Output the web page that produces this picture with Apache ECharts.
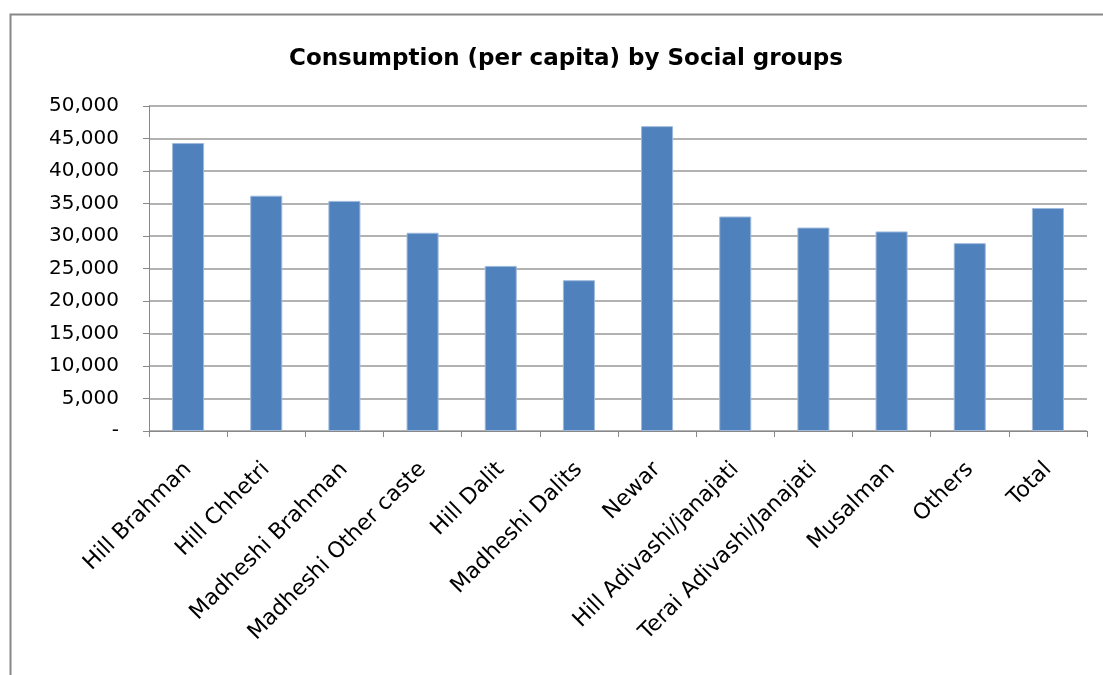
<!DOCTYPE html>
<html>
<head>
<meta charset="utf-8">
<script src="https://cdn.jsdelivr.net/npm/echarts@6/dist/echarts.min.js"></script>
<style>
html,body{margin:0;padding:0;background:#fff;}
#chart{width:1103px;height:675px;}
</style>
</head>
<body>
<div id="chart"></div>
<script>
const categories = ["Hill Brahman","Hill Chhetri","Madheshi Brahman","Madheshi Other caste","Hill Dalit","Madheshi Dalits","Newar","Hill Adivashi/janajati","Terai Adivashi/Janajati","Musalman","Others","Total"];
const values = [44300, 36200, 35400, 30500, 25400, 23200, 46900, 33000, 31300, 30700, 28900, 34300];
const titleText = "Consumption (per capita) by Social groups";

const chart = echarts.init(document.getElementById('chart'), null, {renderer:'canvas'});
const fontFam = "'DejaVu Sans', 'Open Sans', sans-serif";
chart.setOption({
  animation:false,
  backgroundColor:'#fff',
  graphic:[{
    type:'rect', left:8, top:12,
    shape:{x:0,y:0,width:1200,height:800},
    style:{fill:'none', stroke:'#888', lineWidth:2},
    silent:true, z:-1
  }],
  title:{
    text:titleText, left:284, top:43,
    textStyle:{fontFamily:fontFam, fontWeight:'bold', fontSize:23, color:'#000'}
  },
  grid:{left:149, right:16, top:106, bottom:244, containLabel:false},
  xAxis:{
    type:'category', data:categories,
    axisLine:{lineStyle:{color:'#888', width:1}},
    axisTick:{show:true, alignWithLabel:false, length:6, lineStyle:{color:'#888'}},
    axisLabel:{rotate:45, fontFamily:fontFam, fontSize:22, color:'#000', margin:35, interval:0}
  },
  yAxis:{
    type:'value', min:0, max:50000, interval:5000,
    axisLine:{show:true, lineStyle:{color:'#888', width:1}},
    axisTick:{show:true, length:6, lineStyle:{color:'#888'}},
    splitLine:{lineStyle:{color:'#999', width:1.5}},
    axisLabel:{fontFamily:fontFam, fontSize:20, color:'#000', margin:30,
      formatter:function(v){ return v===0 ? '-' : v.toLocaleString('en-US'); }}
  },
  series:[{
    type:'bar', data:values, barWidth:'41%',
    itemStyle:{color:'#4f81bd', borderColor:'#9fb9dc', borderWidth:1}
  }]
});
</script>
</body>
</html>
